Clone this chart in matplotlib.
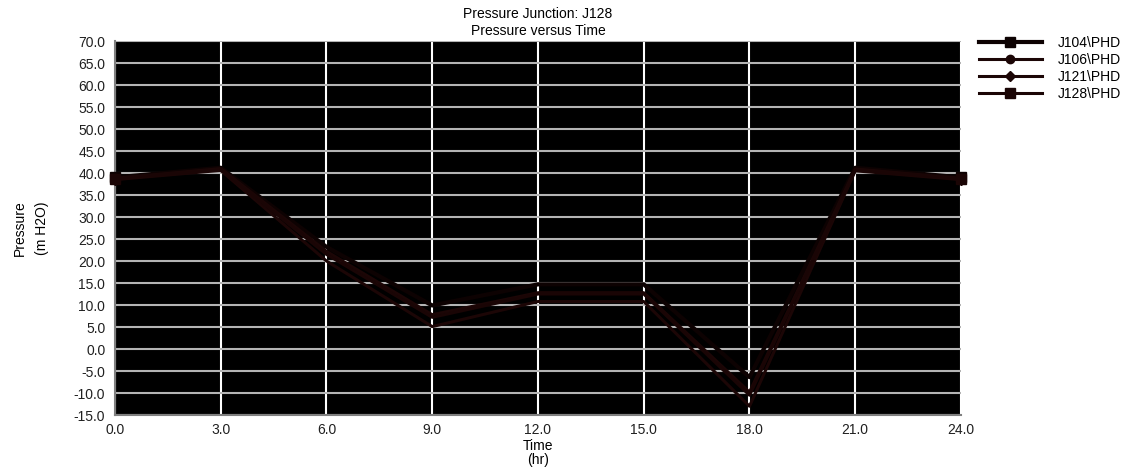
import matplotlib
matplotlib.use("Agg")
import matplotlib.pyplot as plt

# data
hours = [0, 3, 6, 9, 12, 15, 18, 21, 24]
j104 = [39.0, 41.2, 23.2, 9.9, 14.7, 14.7, -6.4, 41.2, 39.0]
j106 = [38.8, 41.0, 22.2, 7.8, 12.8, 12.8, -9.8, 40.9, 38.8]
j121 = [38.5, 40.6, 20.0, 5.1, 10.8, 10.8, -13.0, 40.5, 38.5]
j128 = [38.7, 40.8, 21.5, 7.2, 12.5, 12.5, -10.5, 40.7, 38.7]

series_names = ["J104\\PHD", "J106\\PHD", "J121\\PHD", "J128\\PHD"]
series_values = [j104, j106, j121, j128]

xticks = [0, 3, 6, 9, 12, 15, 18, 21, 24]
yticks = list(range(-15, 75, 5))

plt.rcParams['font.family'] = ['Liberation Sans', 'DejaVu Sans']
fs = 10

fig = plt.figure(figsize=(11.42, 4.72), dpi=100)
ax = fig.add_axes([0.1007, 0.1207, 0.7408, 0.7924])
ax.set_facecolor('black')

styles = [
    dict(color='#0d0202', lw=3.0, marker='s', ms=7),
    dict(color='#1c0606', lw=2.2, marker='o', ms=6),
    dict(color='#1c0606', lw=2.2, marker='D', ms=5),
    dict(color='#1a0505', lw=2.2, marker='s', ms=7),
]

for name, vals, st in zip(series_names, series_values, styles):
    ax.plot(hours, vals, label=name, markevery=[0, len(vals) - 1],
            clip_on=False, zorder=3, **st)

ax.set_xlim(0, 24)
ax.set_ylim(-15, 70)
ax.set_xticks(xticks)
ax.set_xticklabels([f"{t:.1f}" for t in xticks])
ax.set_yticks(yticks)
ax.set_yticklabels([f"{v:.1f}" for v in yticks])
ax.tick_params(length=0, labelsize=fs, colors='#202020')
ax.tick_params(axis='x', pad=6)
ax.tick_params(axis='y', pad=7)

ax.yaxis.grid(True, color='#b4b4b4', lw=1.5)
ax.xaxis.grid(True, color='#ffffff', lw=1.5)
ax.set_axisbelow(True)
for side in ['top', 'right']:
    ax.spines[side].set_visible(False)
for side in ['left', 'bottom']:
    ax.spines[side].set_color('#808080')
    ax.spines[side].set_linewidth(1.5)

ax.set_title("Pressure Junction: J128\nPressure versus Time", fontsize=fs,
             linespacing=1.3, pad=4)
ax.set_xlabel("Time\n(hr)", fontsize=fs, labelpad=1, linespacing=1.05)
ax.set_ylabel("Pressure\n(m H2O)", fontsize=fs, labelpad=18, linespacing=1.75)

fig.legend(loc='upper left', bbox_to_anchor=(0.852, 0.935), frameon=False,
           fontsize=fs, handlelength=4.6, handletextpad=1.1,
           labelspacing=0.2, borderaxespad=0)

fig.savefig("out.png", dpi=100)
